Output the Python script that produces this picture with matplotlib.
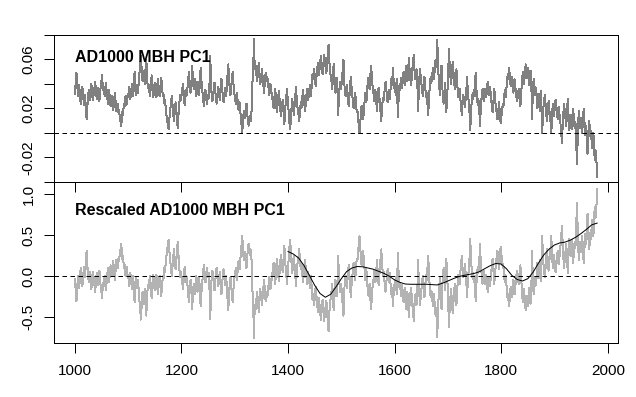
import numpy as np
import matplotlib
matplotlib.use("Agg")
import matplotlib.pyplot as plt

plt.rcParams['font.family'] = ['Liberation Sans', 'DejaVu Sans']

# ---- data ----
years = np.arange(1000, 1981)
# AD1000 MBH PC1, in thousandths, one value per year 1000..1980
pc1_milli = [
    32, 38, 44, 49, 41, 35, 30, 34, 39, 33,   # 1000
    28, 24, 29, 35, 38, 33, 27, 23, 26, 31,
    25, 18, 11, 19, 26, 31, 35, 30, 27, 32,
    36, 40, 34, 29, 27, 31, 35, 38, 42, 37,
    31, 28, 33, 37, 34, 29, 26, 31, 36, 39,
    43, 47, 40, 35, 38, 33, 30, 36, 41, 37,
    33, 28, 24, 30, 35, 31, 26, 22, 27, 30,
    27, 23, 19, 24, 29, 33, 28, 22, 18, 21,
    24, 20, 16, 19, 14, 11, 9, 6, 12, 17,
    15, 19, 24, 21, 26, 30, 27, 23, 28, 32,
    29, 34, 38, 33, 28, 31, 36, 40, 35, 30,   # 1100
    34, 41, 50, 44, 36, 31, 35, 39, 33, 37,
    43, 48, 52, 58, 63, 54, 46, 42, 47, 51,
    45, 40, 49, 55, 60, 50, 42, 37, 40, 36,
    33, 30, 36, 42, 47, 40, 34, 29, 32, 38,
    41, 37, 33, 29, 35, 40, 44, 38, 32, 30,
    34, 39, 45, 41, 35, 30, 33, 28, 24, 27,
    22, 18, 14, 10, 8, 5, 3, 9, 15, 19,
    23, 27, 30, 24, 18, 14, 10, 16, 21, 25,
    21, 15, 9, 4, 12, 19, 25, 28, 31, 27,
    30, 34, 37, 40, 33, 27, 23, 28, 32, 35,   # 1200
    31, 36, 41, 46, 50, 43, 37, 33, 38, 42,
    55, 48, 41, 36, 39, 44, 40, 33, 30, 36,
    42, 38, 34, 31, 37, 45, 53, 46, 39, 35,
    30, 26, 22, 25, 31, 35, 32, 27, 24, 28,
    31, 28, 33, 45, 63, 48, 35, 30, 26, 29,
    33, 37, 41, 36, 31, 27, 24, 29, 34, 38,
    35, 30, 27, 32, 38, 44, 40, 33, 28, 25,
    29, 33, 37, 34, 30, 38, 45, 51, 56, 44,
    39, 35, 31, 36, 42, 47, 50, 43, 37, 33,
    30, 27, 24, 29, 33, 28, 23, 19, 22, 25,   # 1300
    20, 15, 11, 6, 0, 7, 13, 18, 15, 12,
    16, 20, 24, 18, 13, 9, 6, 10, 14, 12,
    10, 14, 22, 38, 50, 58, 77, 60, 52, 55,
    50, 46, 42, 47, 53, 57, 50, 44, 40, 45,
    48, 52, 47, 41, 36, 33, 39, 44, 49, 45,
    42, 46, 43, 38, 34, 31, 36, 40, 37, 33,
    30, 27, 23, 20, 26, 32, 36, 29, 22, 17,
    21, 26, 31, 34, 28, 22, 17, 14, 19, 24,
    27, 22, 15, 7, 14, 21, 26, 31, 36, 30,
    24, 18, 12, 6, 3, 10, 17, 23, 28, 22,     # 1400
    18, 15, 21, 27, 34, 38, 30, 24, 20, 17,
    14, 10, 16, 21, 25, 20, 24, 29, 35, 31,
    26, 22, 18, 23, 29, 33, 36, 31, 27, 32,
    35, 39, 34, 30, 37, 43, 48, 44, 50, 52,
    46, 41, 38, 44, 49, 53, 57, 51, 47, 52,
    56, 60, 63, 57, 50, 48, 54, 59, 64, 58,
    55, 52, 49, 56, 61, 66, 72, 62, 55, 50,
    47, 44, 40, 36, 45, 53, 56, 46, 38, 33,
    37, 41, 45, 32, 15, 24, 33, 39, 42, 36,
    38, 43, 48, 54, 60, 47, 38, 33, 30, 35,   # 1500
    39, 36, 30, 25, 22, 28, 35, 42, 46, 38,
    33, 29, 25, 20, 24, 29, 33, 27, 21, 17,
    19, 14, 9, 4, 0, 6, 12, 17, 22, 18,
    14, 11, 16, 22, 28, 33, 29, 25, 32, 38,
    41, 45, 40, 36, 43, 50, 55, 47, 41, 37,
    34, 30, 26, 31, 35, 29, 22, 18, 25, 33,
    37, 31, 26, 21, 14, 10, 18, 24, 29, 26,
    30, 34, 38, 42, 37, 32, 28, 25, 31, 35,
    31, 28, 34, 40, 44, 39, 46, 53, 44, 37,
    40, 36, 31, 37, 44, 32, 13, 24, 33, 39,   # 1600
    35, 40, 45, 42, 37, 41, 47, 50, 44, 39,
    45, 50, 55, 48, 42, 49, 56, 61, 52, 46,
    42, 39, 45, 51, 55, 60, 64, 53, 47, 44,
    49, 52, 47, 36, 18, 30, 41, 48, 52, 45,
    41, 37, 33, 30, 36, 42, 46, 40, 34, 29,
    33, 28, 21, 15, 24, 32, 38, 44, 46, 41,
    45, 49, 53, 48, 44, 50, 56, 60, 54, 58,
    76, 62, 50, 43, 37, 31, 40, 48, 55, 42,
    34, 28, 24, 30, 37, 41, 29, 17, 25, 33,
    44, 55, 69, 58, 50, 45, 40, 47, 53, 58,   # 1700
    52, 46, 41, 36, 43, 49, 52, 44, 37, 31,
    29, 33, 36, 30, 24, 20, 15, 21, 27, 31,
    28, 24, 21, 26, 32, 38, 46, 37, 30, 26,
    22, 12, 2, 14, 22, 27, 31, 28, 33, 35,
    30, 38, 49, 40, 32, 27, 23, 28, 24, 19,
    6, 14, 22, 28, 33, 36, 31, 26, 29, 34,
    36, 33, 29, 34, 40, 42, 37, 31, 35, 38,
    33, 28, 24, 20, 17, 23, 30, 36, 31, 25,
    21, 18, 14, 11, 16, 22, 25, 19, 13, 8,
    12, 16, 20, 24, 21, 27, 32, 35, 29, 33,   # 1800
    38, 43, 47, 44, 50, 53, 47, 41, 38, 44,
    46, 42, 37, 33, 39, 44, 40, 35, 31, 28,
    26, 30, 34, 36, 31, 25, 22, 29, 37, 42,
    47, 50, 44, 40, 46, 52, 56, 50, 45, 49,
    53, 48, 43, 39, 45, 51, 46, 32, 11, 28,
    38, 44, 40, 35, 31, 37, 33, 26, 20, 27,
    32, 27, 22, 18, 25, 34, 8, 0, 12, 20,
    24, 28, 31, 25, 19, 14, 10, 16, 22, 26,
    21, 16, 13, 7, 0, 10, 18, 24, 19, 14,
    18, 22, 27, 24, 19, 15, 11, 16, 21, 17,   # 1900
    13, 9, 4, -2, -8, 3, 12, 18, 24, 19,
    14, 10, 6, 12, 21, 28, 17, 8, 2, 9,
    10, 15, 8, 3, 12, 20, 14, 6, 9, 4,
    7, -10, -25, -12, 2, 12, 18, 10, 4, 8,
    12, 5, 0, 8, 15, 20, 11, 4, -2, 6,
    3, -8, -17, -6, 4, 10, 6, 0, -5, 2,
    -6, -12, -3, 0, -10, -18, -22, -14, -20, -25,
    -36,                                      # 1980
]
# linear rescaling used for the lower panel
rescale_offset = 0.487
rescale_slope = -16.1

smooth_years = [1400, 1410, 1420, 1430, 1440, 1450, 1460, 1470, 1480, 1490,
                1500, 1510, 1520, 1530, 1540, 1550, 1560, 1570, 1580, 1590,
                1600, 1610, 1620, 1630, 1640, 1650, 1660, 1670, 1680, 1690,
                1700, 1710, 1720, 1730, 1740, 1750, 1760, 1770, 1780, 1790,
                1800, 1810, 1820, 1830, 1840, 1850, 1860, 1870, 1880, 1890,
                1900, 1910, 1920, 1930, 1940, 1950, 1960, 1970, 1980]
smooth_values = [0.30, 0.27, 0.22, 0.13, 0.01, -0.11, -0.21, -0.256, -0.22, -0.13,
                 -0.03, 0.057, 0.10, 0.118, 0.115, 0.10, 0.085, 0.06, 0.035, 0.0,
                 -0.045, -0.075, -0.095, -0.098, -0.098, -0.098, -0.098, -0.102, -0.106, -0.085,
                 -0.058, -0.03, -0.005, 0.01, 0.022, 0.035, 0.057, 0.095, 0.13, 0.155,
                 0.148, 0.09, 0.01, -0.04, -0.058, -0.03, 0.05, 0.16, 0.26, 0.33,
                 0.38, 0.405, 0.415, 0.44, 0.475, 0.52, 0.57, 0.625, 0.646]

xticks = [1000, 1200, 1400, 1600, 1800, 2000]
xticklabels = ['1000', '1200', '1400', '1600', '1800', '2000']
top_yticks = [-0.04, -0.02, 0.0, 0.02, 0.04, 0.06, 0.08]
top_yticklabels = ['', '-0.02', '', '0.02', '', '0.06', '']
bot_yticks = [-0.5, 0.0, 0.5, 1.0]
bot_yticklabels = ['-0.5', '0.0', '0.5', '1.0']
title_top = "AD1000 MBH PC1"
title_bot = "Rescaled AD1000 MBH PC1"

pc1 = np.array(pc1_milli) / 1000.0
rescaled = rescale_offset + rescale_slope * pc1

# ---- figure ----
W, H = 636, 397
fig = plt.figure(figsize=(W / 100, H / 100), dpi=100)


def rect(l, t, r, b):
    return [l / W, 1 - b / H, (r - l) / W, (b - t) / H]


ax2 = fig.add_axes(rect(54, 182, 618, 343.3))
ax1 = fig.add_axes(rect(54, 35, 618, 182))

xlim = (960.8, 2019.2)
px = 0.72

for ax in (ax1, ax2):
    ax.set_xlim(*xlim)
    for s in ax.spines.values():
        s.set_linewidth(px)
        s.set_color('black')
    ax.tick_params(direction='out', length=7.2, width=px, colors='black',
                   labelsize=11, top=False, right=False)
    ax.set_xticks(xticks)

# top panel
ax1.plot(years, pc1, color='#808080', lw=px, antialiased=False)
ax1.axhline(0, color='black', lw=px, linestyle=(0, (4.5, 3.5)))
ax1.set_ylim(-0.04, 0.08)
ax1.set_yticks(top_yticks)
ax1.set_yticklabels(top_yticklabels)
ax1.set_xticklabels([])
ax1.tick_params(axis='y', labelrotation=90, pad=6)
for lab in ax1.get_yticklabels():
    lab.set_va('center')
ax1.text(1000, 0.062, title_top, fontsize=11.5, fontweight='bold',
         ha='left', va='center')

# bottom panel
ax2.plot(years, rescaled, color='#B3B3B3', lw=px, antialiased=False)
ax2.plot(smooth_years, smooth_values, color='black', lw=px)
ax2.axhline(0, color='black', lw=px, linestyle=(0, (4.5, 3.5)))
ax2.set_ylim(-0.816, 1.146)
ax2.set_yticks(bot_yticks)
ax2.set_yticklabels(bot_yticklabels)
ax2.set_xticklabels(xticklabels)
ax2.tick_params(axis='y', labelrotation=90, pad=6)
ax2.tick_params(axis='x', pad=8)
for lab in ax2.get_yticklabels():
    lab.set_va('center')
ax2.text(1000, 0.794, title_bot, fontsize=11.5, fontweight='bold',
         ha='left', va='center')

fig.savefig('out.png', dpi=100, facecolor='white')
